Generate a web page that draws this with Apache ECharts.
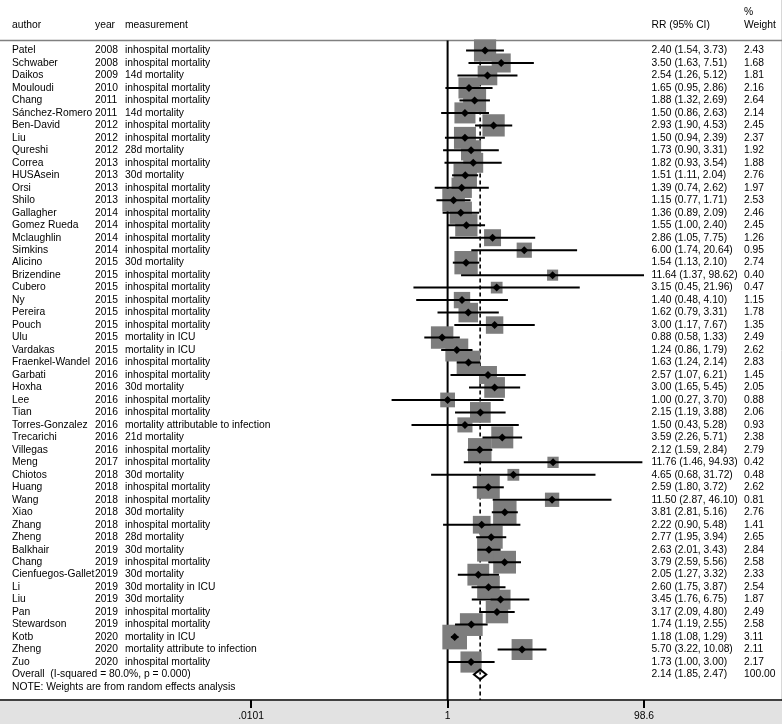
<!DOCTYPE html>
<html><head><meta charset="utf-8">
<script src="https://cdn.jsdelivr.net/npm/echarts@6/dist/echarts.min.js"></script>
<style>html,body{margin:0;padding:0;background:#fff}#c{width:782px;height:724px}</style>
</head><body><div id="c"></div>
<script>
const authors = ['Patel','Schwaber','Daikos','Mouloudi','Chang','Sánchez-Romero','Ben-David','Liu','Qureshi','Correa','HUSAsein','Orsi','Shilo','Gallagher','Gomez Rueda','Mclaughlin','Simkins','Alicino','Brizendine','Cubero','Ny','Pereira','Pouch','Ulu','Vardakas','Fraenkel-Wandel','Garbati','Hoxha','Lee','Tian','Torres-Gonzalez','Trecarichi','Villegas','Meng','Chiotos','Huang','Wang','Xiao','Zhang','Zheng','Balkhair','Chang','Cienfuegos-Gallet','Li','Liu','Pan','Stewardson','Kotb','Zheng','Zuo'];
const years = [2008,2008,2009,2010,2011,2011,2012,2012,2012,2013,2013,2013,2013,2014,2014,2014,2014,2015,2015,2015,2015,2015,2015,2015,2015,2016,2016,2016,2016,2016,2016,2016,2016,2017,2018,2018,2018,2018,2018,2018,2019,2019,2019,2019,2019,2019,2019,2020,2020,2020];
const measures = ['inhospital mortality','inhospital mortality','14d mortality','inhospital mortality','inhospital mortality','14d mortality','inhospital mortality','inhospital mortality','28d mortality','inhospital mortality','30d mortality','inhospital mortality','inhospital mortality','inhospital mortality','inhospital mortality','inhospital mortality','inhospital mortality','30d mortality','inhospital mortality','inhospital mortality','inhospital mortality','inhospital mortality','inhospital mortality','mortality in ICU','mortality in ICU','inhospital mortality','inhospital mortality','30d mortality','inhospital mortality','inhospital mortality','mortality attributable to infection','21d mortality','inhospital mortality','inhospital mortality','30d mortality','inhospital mortality','inhospital mortality','30d mortality','inhospital mortality','28d mortality','30d mortality','inhospital mortality','30d mortality','30d mortality in ICU','30d mortality','inhospital mortality','inhospital mortality','mortality in ICU','mortality attribute to infection','inhospital mortality'];
const rr = [2.40,3.50,2.54,1.65,1.88,1.50,2.93,1.50,1.73,1.82,1.51,1.39,1.15,1.36,1.55,2.86,6.00,1.54,11.64,3.15,1.40,1.62,3.00,0.88,1.24,1.63,2.57,3.00,1.00,2.15,1.50,3.59,2.12,11.76,4.65,2.59,11.50,3.81,2.22,2.77,2.63,3.79,2.05,2.60,3.45,3.17,1.74,1.18,5.70,1.73];
const lo = [1.54,1.63,1.26,0.95,1.32,0.86,1.90,0.94,0.90,0.93,1.11,0.74,0.77,0.89,1.00,1.05,1.74,1.13,1.37,0.45,0.48,0.79,1.17,0.58,0.86,1.24,1.07,1.65,0.27,1.19,0.43,2.26,1.59,1.46,0.68,1.80,2.87,2.81,0.90,1.95,2.01,2.59,1.27,1.75,1.76,2.09,1.19,1.08,3.22,1.00];
const hi = [3.73,7.51,5.12,2.86,2.69,2.63,4.53,2.39,3.31,3.54,2.04,2.62,1.71,2.09,2.40,7.75,20.64,2.10,98.62,21.96,4.10,3.31,7.67,1.33,1.79,2.14,6.21,5.45,3.70,3.88,5.28,5.71,2.84,94.93,31.72,3.72,46.10,5.16,5.48,3.94,3.43,5.56,3.32,3.87,6.75,4.80,2.55,1.29,10.08,3.00];
const weights = [2.43,1.68,1.81,2.16,2.64,2.14,2.45,2.37,1.92,1.88,2.76,1.97,2.53,2.46,2.45,1.26,0.95,2.74,0.40,0.47,1.15,1.78,1.35,2.49,2.62,2.83,1.45,2.05,0.88,2.06,0.93,2.38,2.79,0.42,0.48,2.62,0.81,2.76,1.41,2.65,2.84,2.58,2.33,2.54,1.87,2.49,2.58,3.11,2.11,2.17];
const overallLabel = 'Overall  (I-squared = 80.0%, p = 0.000)';
const overallRR = 2.14, overallLo = 1.85, overallHi = 2.47, overallWeight = 100;
const noteText = 'NOTE: Weights are from random effects analysis';
const tickValues = [0.0101, 1, 98.6];
const tickLabels = ['.0101', '1', '98.6'];

const FONT = '10.3px "Liberation Sans", Arial, sans-serif';
const L = Math.log10;
const N = authors.length;
const fmt = v => v.toFixed(2);

function txt(x, y, s, align) {
  return {type:'text', x:x, y:y, style:{text:s, fill:'#000', font:FONT,
    align:align||'left', verticalAlign:'middle', textAlign:align||'left', textVerticalAlign:'middle'}};
}

const textRows = [];
for (let i = 0; i < N; i++) textRows.push([0, i]);
textRows.push([0, N]);
textRows.push([0, N + 1]);

const chart = echarts.init(document.getElementById('c'), null, {renderer:'canvas'});
chart.setOption({
  animation: false,
  backgroundColor: '#fff',
  grid: {left: 0, right: 0, top: 0, bottom: 24, containLabel: false},
  xAxis: {
    type: 'value', min: -4.5442, max: 3.3949,
    splitLine: {show: false},
    axisLine: {show: true, onZero: false, lineStyle: {color: '#000', width: 1.5}},
    axisTick: {show: true, length: 8, customValues: tickValues.map(L), lineStyle: {color: '#000', width: 2}},
    axisLabel: {show: true, customValues: tickValues.map(L), margin: 11, color: '#000', fontSize: 10.3,
      fontFamily: '"Liberation Sans", Arial, sans-serif',
      formatter: v => { let k = 0, d = 1e9; tickValues.forEach((t, j) => { const e = Math.abs(L(t) - v); if (e < d) { d = e; k = j; } }); return tickLabels[k]; }}
  },
  yAxis: {type: 'value', inverse: true, min: -4.0465, max: 52.043, show: false},
  graphic: [
    {type:'rect', z:-10, shape:{x:0, y:701, width:782, height:23}, style:{fill:'#e2e2e2'}},
    {type:'line', shape:{x1:781.5, y1:0, x2:781.5, y2:701}, style:{stroke:'#d8d8d8', lineWidth:1}},
    {type:'line', shape:{x1:0, y1:40.5, x2:782, y2:40.5}, style:{stroke:'#808080', lineWidth:1.5}},
    {type:'text', x:12, y:25, style:{text:'author', font:FONT, fill:'#000', verticalAlign:'middle', textVerticalAlign:'middle'}},
    {type:'text', x:95, y:25, style:{text:'year', font:FONT, fill:'#000', verticalAlign:'middle', textVerticalAlign:'middle'}},
    {type:'text', x:125, y:25, style:{text:'measurement', font:FONT, fill:'#000', verticalAlign:'middle', textVerticalAlign:'middle'}},
    {type:'text', x:651.5, y:25, style:{text:'RR (95% CI)', font:FONT, fill:'#000', verticalAlign:'middle', textVerticalAlign:'middle'}},
    {type:'text', x:744, y:12.5, style:{text:'%', font:FONT, fill:'#000', verticalAlign:'middle', textVerticalAlign:'middle'}},
    {type:'text', x:744, y:25, style:{text:'Weight', font:FONT, fill:'#000', verticalAlign:'middle', textVerticalAlign:'middle'}}
  ],
  series: [
    {
      type: 'custom', z: 1, silent: true,
      data: [[L(1)], [L(overallRR)]],
      encode: {x: 0},
      renderItem: (params, api) => {
        const cs = params.coordSys;
        const x = api.coord([api.value(0), 0])[0];
        const yTop = api.coord([0, -0.8])[1];
        const yBot = cs.y + cs.height;
        const dashed = params.dataIndex === 1;
        return {type:'line', shape:{x1:x, y1:yTop, x2:x, y2:yBot},
          style:{stroke:'#000', lineWidth: dashed ? 1.6 : 2, lineDash: dashed ? [4, 3] : null}};
      }
    },
    {
      type: 'custom', z: 2, silent: true,
      data: rr.map((v, i) => [L(v), i, weights[i]]),
      encode: {x: 0, y: 1},
      renderItem: (params, api) => {
        const p = api.coord([api.value(0), api.value(1)]);
        const s = 3.5 + 12 * Math.sqrt(api.value(2));
        return {type:'rect', shape:{x:p[0]-s/2, y:p[1]-s/2, width:s, height:s}, style:{fill:'#7d7d7d'}};
      }
    },
    {
      type: 'custom', z: 3, silent: true,
      data: rr.map((v, i) => [L(lo[i]), L(hi[i]), i, L(v)]),
      encode: {x: [0, 1, 3], y: 2},
      renderItem: (params, api) => {
        const a = api.coord([api.value(0), api.value(2)]);
        const b = api.coord([api.value(1), api.value(2)]);
        const c = api.coord([api.value(3), api.value(2)]);
        const h = 4;
        return {type:'group', children:[
          {type:'line', shape:{x1:a[0], y1:a[1], x2:b[0], y2:b[1]}, style:{stroke:'#000', lineWidth:2}},
          {type:'polygon', shape:{points:[[c[0]-h, c[1]], [c[0], c[1]-h], [c[0]+h, c[1]], [c[0], c[1]+h]]}, style:{fill:'#000'}}
        ]};
      }
    },
    {
      type: 'custom', z: 4, silent: true,
      data: [[L(overallLo), L(overallHi), N, L(overallRR)]],
      encode: {x: [0, 1, 3], y: 2},
      renderItem: (params, api) => {
        const a = api.coord([api.value(0), api.value(2)]);
        const b = api.coord([api.value(1), api.value(2)]);
        const c = api.coord([api.value(3), api.value(2)]);
        return {type:'polygon', shape:{points:[[a[0], a[1]], [c[0], c[1]-5], [b[0], b[1]], [c[0], c[1]+5]]},
          style:{fill:'none', stroke:'#000', lineWidth:2}};
      }
    },
    {
      type: 'custom', z: 5, silent: true,
      data: textRows,
      encode: {x: 0, y: 1},
      renderItem: (params, api) => {
        const i = api.value(1);
        const y = api.coord([0, i])[1];
        if (i < N) {
          return {type:'group', children:[
            txt(12, y, authors[i]),
            txt(95, y, String(years[i])),
            txt(125, y, measures[i]),
            txt(651.5, y, fmt(rr[i]) + ' (' + fmt(lo[i]) + ', ' + fmt(hi[i]) + ')'),
            txt(744, y, fmt(weights[i]))
          ]};
        } else if (i === N) {
          return {type:'group', children:[
            txt(12, y, overallLabel),
            txt(651.5, y, fmt(overallRR) + ' (' + fmt(overallLo) + ', ' + fmt(overallHi) + ')'),
            txt(744, y, fmt(overallWeight))
          ]};
        }
        return txt(12, y, noteText);
      }
    }
  ]
});
</script></body></html>
